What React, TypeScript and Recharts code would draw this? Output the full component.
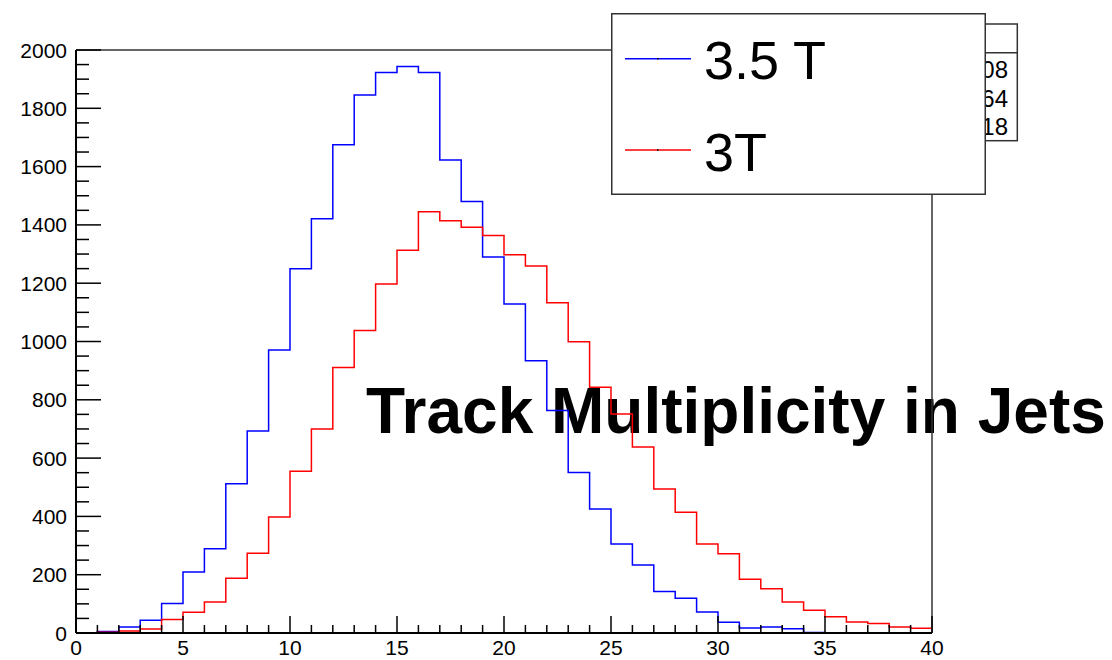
import React from 'react';
import { LineChart, Line, XAxis, YAxis, ReferenceLine, Legend } from 'recharts';

const FONT = '"Liberation Sans", Arial, Helvetica, sans-serif';

// lower edges of the 1-wide bins, plus the closing edge
const binEdges = [
  0, 1, 2, 3, 4, 5, 6, 7, 8, 9, 10, 11, 12, 13, 14, 15, 16, 17, 18, 19,
  20, 21, 22, 23, 24, 25, 26, 27, 28, 29, 30, 31, 32, 33, 34, 35, 36, 37, 38, 39,
];
const lastEdge = 40;

const counts35T = [
  0, 5, 21, 44, 101, 209, 289, 512, 693, 971, 1250, 1421, 1675, 1846, 1923, 1943, 1923, 1623, 1480, 1290,
  1129, 934, 763, 551, 425, 305, 233, 142, 119, 72, 37, 17, 21, 15, 2, 1, 1, 1, 0, 0,
];
const counts3T = [
  0, 3, 7, 14, 46, 71, 106, 188, 274, 398, 555, 700, 911, 1038, 1197, 1313, 1445, 1414, 1392, 1364,
  1298, 1259, 1133, 999, 843, 751, 638, 494, 414, 305, 272, 184, 152, 106, 78, 56, 38, 33, 21, 16,
];

const xLabels = [0, 5, 10, 15, 20, 25, 30, 35, 40];
const yLabels = [0, 200, 400, 600, 800, 1000, 1200, 1400, 1600, 1800, 2000];
const statsTail = ['08', '64', '18'];

const title = 'Track Multiplicity in Jets';

const data = binEdges.map((x, i) => ({ x, b: counts35T[i], r: counts3T[i] }));
// stepAfter needs a last point so the final bin reaches the right edge
data.push({ x: lastEdge, b: counts35T[counts35T.length - 1], r: counts3T[counts3T.length - 1] });

const xTicks = Array.from({ length: 41 }, (_, i) => i);
const yTicks = Array.from({ length: 41 }, (_, i) => i * 50);

const XTick = (props: any) => {
  const { x, y, payload } = props;
  const major = xLabels.includes(payload.value);
  return (
    <g>
      <line x1={x} x2={x} y1={y} y2={y - (major ? 17 : 8)} stroke="#000" strokeWidth={1.5} />
      {major && (
        <text x={x} y={y + 22} textAnchor="middle" fontSize={21} fill="#000" fontFamily={FONT}>
          {payload.value}
        </text>
      )}
    </g>
  );
};

const YTick = (props: any) => {
  const { x, y, payload } = props;
  const major = yLabels.includes(payload.value);
  return (
    <g>
      <line x1={x} x2={x + (major ? 25 : 13)} y1={y} y2={y} stroke="#000" strokeWidth={1.5} />
      {major && (
        <text x={x - 9} y={y} dy="0.36em" textAnchor="end" fontSize={21} fill="#000" fontFamily={FONT}>
          {payload.value}
        </text>
      )}
    </g>
  );
};

const LegendBox = ({ payload }: any) => (
  <svg width={375} height={182} style={{ display: 'block' }}>
    <rect x={0.75} y={0.75} width={373.5} height={180.5} fill="#fff" stroke="#333" strokeWidth={1.5} />
    {(payload || []).map((p: any, i: number) => {
      const cy = 45.7 + i * 91.3;
      return (
        <g key={p.value}>
          <line x1={14} x2={80} y1={cy} y2={cy} stroke={p.color} strokeWidth={1.5} />
          <rect x={46} y={cy - 0.75} width={1.5} height={1.5} fill="#000" />
          <text x={93} y={cy + 20.5} fontSize={54} fill="#000" fontFamily={FONT}>
            {p.value}
          </text>
        </g>
      );
    })}
  </svg>
);

export default function App() {
  return (
    <div style={{ position: 'absolute', left: 0, top: 0, width: 1112, height: 660, background: '#fff' }}>
      <svg width={1112} height={660} style={{ position: 'absolute', left: 0, top: 0 }}>
        <rect x={940} y={24} width={77.3} height={116.7} fill="#fff" stroke="#333" strokeWidth={1.5} />
        <line x1={940} x2={1017.3} y1={52.7} y2={52.7} stroke="#333" strokeWidth={1.5} />
        {statsTail.map((t, i) => (
          <text key={t} x={1008} y={78.3 + i * 28.3} textAnchor="end" fontSize={24} fill="#000" fontFamily={FONT}>
            {t}
          </text>
        ))}
        <text x={366} y={433.3} fontSize={64} fontWeight="bold" fill="#000" fontFamily={FONT}>
          {title}
        </text>
      </svg>
      <div style={{ position: 'absolute', left: 0, top: 0 }}>
        <LineChart width={1112} height={660} data={data} margin={{ top: 50, right: 180, bottom: 0, left: 0 }}>
          <XAxis
            dataKey="x"
            type="number"
            domain={[0, 40]}
            ticks={xTicks}
            interval={0}
            height={27}
            tickSize={0}
            tickMargin={0}
            tickLine={false}
            tick={<XTick />}
            axisLine={{ stroke: '#000', strokeWidth: 2 }}
          />
          <YAxis
            type="number"
            domain={[0, 2000]}
            ticks={yTicks}
            interval={0}
            width={76}
            tickSize={0}
            tickMargin={0}
            tickLine={false}
            tick={<YTick />}
            axisLine={{ stroke: '#000', strokeWidth: 2 }}
          />
          <ReferenceLine y={2000} stroke="#333" strokeWidth={1.5} />
          <ReferenceLine x={40} stroke="#333" strokeWidth={1.5} />
          <Line
            type="stepAfter"
            dataKey="b"
            name="3.5 T"
            stroke="#0000ff"
            strokeWidth={1.5}
            dot={false}
            isAnimationActive={false}
          />
          <Line
            type="stepAfter"
            dataKey="r"
            name="3T"
            stroke="#ff0000"
            strokeWidth={1.5}
            dot={false}
            isAnimationActive={false}
          />
          <Legend
            layout="horizontal"
            verticalAlign="middle"
            align="center"
            content={<LegendBox />}
            wrapperStyle={{ left: 611, top: 13, width: 375, height: 182, zIndex: 2 }}
          />
        </LineChart>
      </div>
    </div>
  );
}
